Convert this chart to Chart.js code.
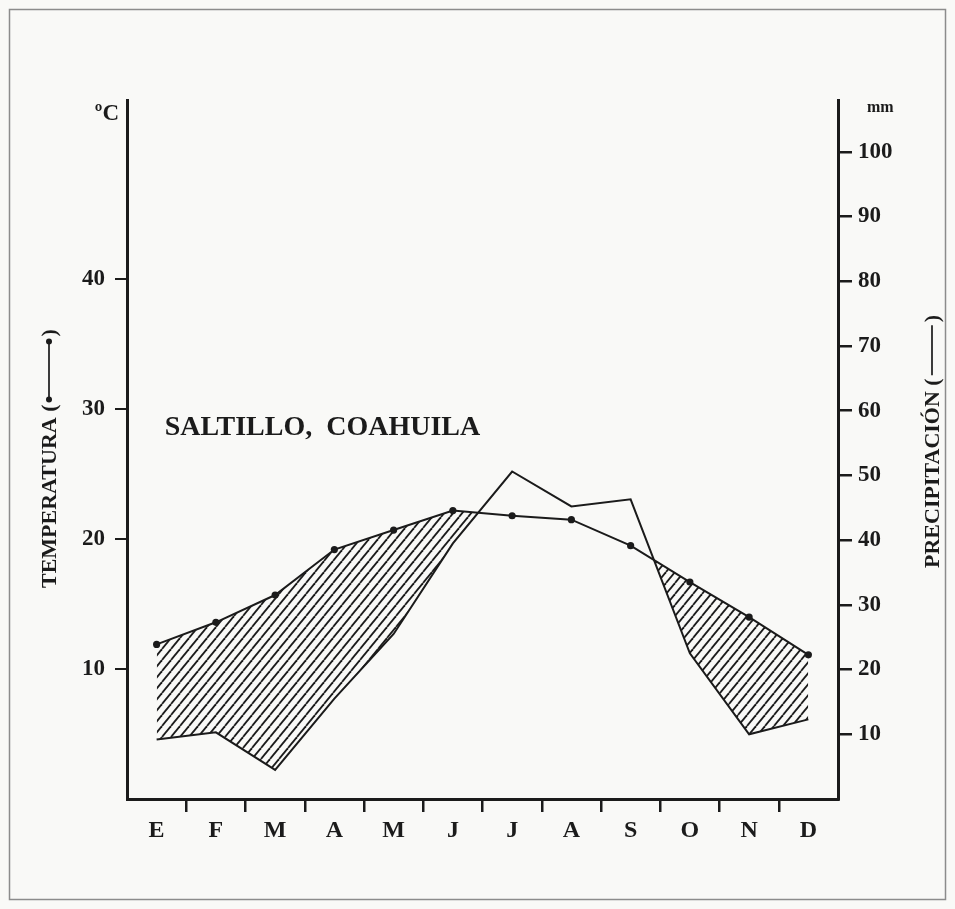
<!DOCTYPE html>
<html lang="es">
<head>
<meta charset="utf-8">
<title>Saltillo, Coahuila</title>
<script src="https://cdn.jsdelivr.net/npm/chart.js@4.4.1/dist/chart.umd.min.js"></script>
<style>
    html, body { margin: 0; padding: 0; background: #ffffff; }
    #wrap { width: 955px; height: 909px; }
</style>
</head>
<body>
<div id="wrap"><canvas id="climograma" width="955" height="909"></canvas></div>
<script>
// Datos mensuales de Saltillo
const meses = ['E', 'F', 'M', 'A', 'M', 'J', 'J', 'A', 'S', 'O', 'N', 'D'];
const temperatura = [11.9, 13.6, 15.7, 19.2, 20.7, 22.2, 21.8, 21.5, 19.5, 16.7, 14.0, 11.1];
const precipitacion = [9.2, 10.3, 4.5, 15.5, 25.5, 39.5, 50.6, 45.2, 46.3, 22.5, 10.0, 12.3];
const ticksTemp = [10, 20, 30, 40];
const ticksPrecip = [10, 20, 30, 40, 50, 60, 70, 80, 90, 100];

const TINTA = '#1b1b1b';
const SERIF = '"Liberation Serif", "DejaVu Serif", serif';

// Rayado diagonal para el periodo seco
function crearRayado() {
    const w = 9, h = 11;
    const c = document.createElement('canvas');
    c.width = w;
    c.height = h;
    const g = c.getContext('2d');
    g.strokeStyle = TINTA;
    g.lineWidth = 1.8;
    for (let k = -1; k <= 1; k++) {
        g.beginPath();
        g.moveTo(k * w, h);
        g.lineTo(k * w + w, 0);
        g.stroke();
    }
    return g.createPattern(c, 'repeat');
}

// Fondo, marco y textos fuera de las series
const textosPlugin = {
    id: 'textos',
    beforeDraw(chart) {
        const ctx = chart.ctx;
        ctx.save();
        ctx.fillStyle = '#f9f9f7';
        ctx.fillRect(0, 0, chart.width, chart.height);
        ctx.strokeStyle = '#8c8c8c';
        ctx.lineWidth = 1.5;
        ctx.strokeRect(9.5, 9.5, chart.width - 19, chart.height - 19);
        ctx.restore();
    },
    afterDraw(chart) {
        const ctx = chart.ctx;
        const area = chart.chartArea;
        const x = chart.scales.x;
        const yT = chart.scales.yTemp;
        ctx.save();
        ctx.fillStyle = TINTA;
        ctx.strokeStyle = TINTA;

        // unidades
        ctx.font = 'bold 23px ' + SERIF;
        ctx.textAlign = 'right';
        ctx.textBaseline = 'middle';
        ctx.fillText('ºC', area.left - 8, area.top + 14);
        ctx.font = 'bold 16px ' + SERIF;
        ctx.textAlign = 'left';
        ctx.fillText('mm', area.right + 29, area.top + 8);

        // nombre de la estación
        ctx.font = 'bold 28px ' + SERIF;
        ctx.textAlign = 'left';
        ctx.fillText('SALTILLO,  COAHUILA', x.getPixelForValue(0) + 8, yT.getPixelForValue(28.6));

        // títulos de los ejes, girados
        tituloVertical(ctx, area.left - 77, area.bottom - 211, 'TEMPERATURA (', 62, true);
        tituloVertical(ctx, area.right + 95, area.bottom - 231, 'PRECIPITACIÓN (', 50, false);
        ctx.restore();
    }
};

function tituloVertical(ctx, cx, y0, texto, largo, conPuntos) {
    ctx.save();
    ctx.translate(cx, y0);
    ctx.rotate(-Math.PI / 2);
    ctx.font = 'bold 22px ' + SERIF;
    ctx.textAlign = 'left';
    ctx.textBaseline = 'middle';
    ctx.fillText(texto, 0, 0);
    let p = ctx.measureText(texto).width + 3;
    ctx.lineWidth = 1.7;
    ctx.beginPath();
    ctx.moveTo(p, -1);
    ctx.lineTo(p + largo, -1);
    ctx.stroke();
    if (conPuntos) {
        [p + 2, p + largo - 2].forEach(px => {
            ctx.beginPath();
            ctx.arc(px, -1, 3, 0, Math.PI * 2);
            ctx.fill();
        });
    }
    p += largo + 3;
    ctx.fillText(')', p, 0);
    ctx.restore();
}

function initClimograma() {
    const ctx = document.getElementById('climograma').getContext('2d');
    const rayado = crearRayado();

    new Chart(ctx, {
        type: 'line',
        data: {
            labels: meses,
            datasets: [{
                label: 'Temperatura',
                data: temperatura,
                yAxisID: 'yTemp',
                borderColor: TINTA,
                borderWidth: 2,
                pointRadius: 3.6,
                pointBackgroundColor: TINTA,
                pointBorderWidth: 0,
                tension: 0,
                fill: { target: 1, above: rayado, below: 'rgba(0,0,0,0)' }
            }, {
                label: 'Precipitación',
                data: precipitacion,
                yAxisID: 'yPrecip',
                borderColor: TINTA,
                borderWidth: 2,
                pointRadius: 0,
                tension: 0,
                fill: false
            }]
        },
        options: {
            responsive: false,
            animation: false,
            events: [],
            layout: {
                padding: { top: 100, left: 0, right: 0, bottom: 0 }
            },
            plugins: {
                legend: { display: false },
                tooltip: { enabled: false },
                title: { display: false }
            },
            scales: {
                x: {
                    offset: true,
                    afterFit: s => { s.height = 110; },
                    grid: {
                        offset: true,
                        drawOnChartArea: false,
                        tickLength: 13,
                        lineWidth: 2.5,
                        color: c => (c.type !== 'tick' || c.index === 0) ? 'rgba(0,0,0,0)' : TINTA
                    },
                    border: { display: true, color: TINTA, width: 3 },
                    ticks: {
                        color: TINTA,
                        padding: 4,
                        maxRotation: 0,
                        font: { family: SERIF, size: 24, weight: 'bold' }
                    }
                },
                yTemp: {
                    position: 'left',
                    min: 0,
                    max: 53.8,
                    afterFit: s => { s.width = 127; },
                    afterBuildTicks: s => { s.ticks = ticksTemp.map(v => ({ value: v })); },
                    grid: { drawOnChartArea: false, tickLength: 12, lineWidth: 2, color: TINTA },
                    border: { display: true, color: TINTA, width: 3 },
                    ticks: {
                        color: TINTA,
                        padding: 10,
                        font: { family: SERIF, size: 23, weight: 'bold' }
                    }
                },
                yPrecip: {
                    position: 'right',
                    min: 0,
                    max: 108,
                    afterFit: s => { s.width = 117; },
                    afterBuildTicks: s => { s.ticks = ticksPrecip.map(v => ({ value: v })); },
                    grid: { drawOnChartArea: false, tickLength: 14, lineWidth: 2.5, color: TINTA },
                    border: { display: true, color: TINTA, width: 3 },
                    ticks: {
                        color: TINTA,
                        padding: 6,
                        font: { family: SERIF, size: 23, weight: 'bold' }
                    }
                }
            }
        },
        plugins: [textosPlugin]
    });
}

initClimograma();
</script>
</body>
</html>
